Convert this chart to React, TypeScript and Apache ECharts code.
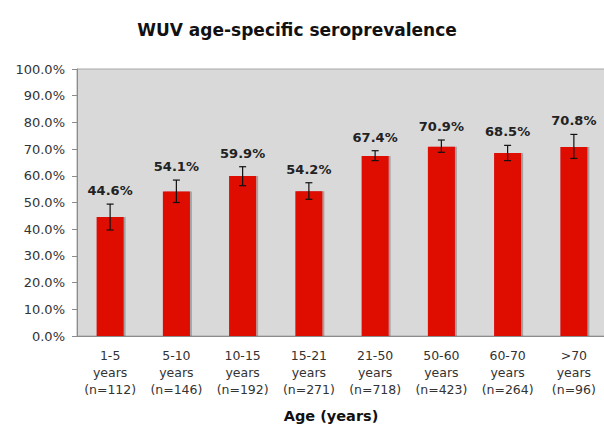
import React, { useEffect, useRef } from "react";
import * as echarts from "echarts";

const titleText = "WUV age-specific seroprevalence";
const ageGroups = ["1-5", "5-10", "10-15", "15-21", "21-50", "50-60", "60-70", ">70"];
const sampleSizes = [112, 146, 192, 271, 718, 423, 264, 96];
const seroprevalence = [44.6, 54.1, 59.9, 54.2, 67.4, 70.9, 68.5, 70.8];
const errorLow = [4.9, 4.1, 3.6, 3.0, 1.7, 2.1, 2.8, 4.3];
const errorHigh = [4.8, 4.3, 3.5, 3.2, 2.0, 2.5, 2.9, 4.7];
const xAxisTitle = "Age (years)";

const FONT = "DejaVu Sans";

export default function App() {
  const ref = useRef<HTMLDivElement>(null);
  useEffect(() => {
    if (!ref.current) return;
    const chart = echarts.init(ref.current, null, { renderer: "svg" });
    const categories = ageGroups.map((g, i) => `${g}\nyears\n(n=${sampleSizes[i]})`);
    const errData = seroprevalence.map((v, i) => [i, v - errorLow[i], v + errorHigh[i], v]);
    chart.setOption({
      animation: false,
      backgroundColor: "#ffffff",
      title: {
        text: titleText,
        left: 292,
        top: 16,
        textAlign: "center",
        textStyle: { fontFamily: FONT, fontSize: 17, fontWeight: "bold", color: "#111" },
      },
      grid: {
        left: 77,
        top: 69,
        width: 530,
        height: 267,
        outerBoundsMode: "none",
        containLabel: false,
        show: true,
        backgroundColor: "#d9d9d9",
        borderColor: "#a8a8a8",
        borderWidth: 1,
      },
      xAxis: {
        type: "category",
        data: categories,
        name: xAxisTitle,
        nameLocation: "middle",
        nameGap: 72,
        nameTextStyle: {
          fontFamily: FONT,
          fontSize: 14.5,
          fontWeight: "bold",
          color: "#111",
          padding: [0, 22, 0, 0],
        },
        axisLine: { lineStyle: { color: "#8c8c8c", width: 1 } },
        axisTick: { show: false },
        axisLabel: {
          fontFamily: FONT,
          fontSize: 12.5,
          color: "#333",
          lineHeight: 17,
          margin: 11,
          interval: 0,
        },
      },
      yAxis: {
        type: "value",
        min: 0,
        max: 100,
        interval: 10,
        axisLine: { show: true, lineStyle: { color: "#8c8c8c", width: 1 } },
        axisTick: { show: true, length: 5, lineStyle: { color: "#8c8c8c" } },
        splitLine: { show: false },
        axisLabel: {
          fontFamily: FONT,
          fontSize: 13,
          color: "#333",
          margin: 12,
          formatter: (v: number) => v.toFixed(1) + "%",
        },
      },
      series: [
        {
          type: "bar",
          data: seroprevalence,
          barWidth: 27,
          itemStyle: {
            color: "#de0704",
            shadowColor: "rgba(0,0,0,0.25)",
            shadowOffsetX: 2,
            shadowOffsetY: 0,
            shadowBlur: 1,
          },
          z: 2,
        },
        {
          type: "custom",
          data: errData,
          encode: { x: 0, y: [1, 2] },
          z: 3,
          renderItem: (params: any, api: any) => {
            const idx = api.value(0);
            const lo = api.value(1);
            const hi = api.value(2);
            const val = api.value(3);
            const pLo = api.coord([idx, lo]);
            const pHi = api.coord([idx, hi]);
            const cx = pLo[0];
            const cap = 3.5;
            const stroke = { stroke: "#111", lineWidth: 1.2 };
            return {
              type: "group",
              children: [
                { type: "line", shape: { x1: cx, y1: pHi[1], x2: cx, y2: pLo[1] }, style: stroke },
                { type: "line", shape: { x1: cx - cap, y1: pHi[1], x2: cx + cap, y2: pHi[1] }, style: stroke },
                { type: "line", shape: { x1: cx - cap, y1: pLo[1], x2: cx + cap, y2: pLo[1] }, style: stroke },
                {
                  type: "text",
                  style: {
                    text: val.toFixed(1) + "%",
                    x: cx,
                    y: pHi[1] - 7,
                    align: "center",
                    verticalAlign: "bottom",
                    font: `bold 13px "${FONT}"`,
                    fill: "#222",
                  },
                },
              ],
            };
          },
        },
      ],
    });
    return () => chart.dispose();
  }, []);
  return (
    <div
      ref={ref}
      style={{ position: "fixed", left: 0, top: 0, width: 604, height: 425, background: "#fff" }}
    />
  );
}
